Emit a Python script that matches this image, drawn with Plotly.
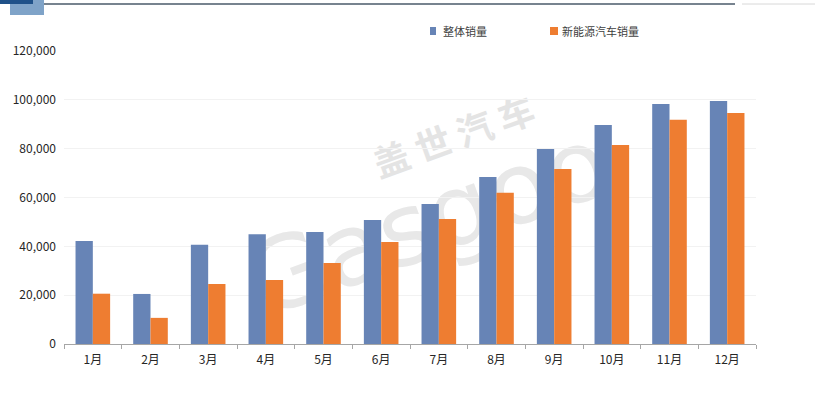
import plotly.graph_objects as go

months = ["1月", "2月", "3月", "4月", "5月", "6月", "7月", "8月", "9月", "10月", "11月", "12月"]
total_sales = [42200, 20500, 40600, 45000, 45900, 50800, 57300, 68400, 79900, 89700, 98300, 99500]
nev_sales = [20600, 10700, 24600, 26200, 33200, 41800, 51200, 61900, 71700, 81500, 91800, 94600]
series_names = ["整体销量", "新能源汽车销量"]
y_ticks = [0, 20000, 40000, 60000, 80000, 100000, 120000]

FONT = "Noto Sans CJK SC"
BLUE = "#6784b6"
ORANGE = "#ee7d31"

L, R, T, B = 64, 64, 51, 49
PW, PH = 820 - L - R, 393 - T - B


def px(x):
    return (x - L) / PW


def py(y):
    return (393 - B - y) / PH


fig = go.Figure()
fig.add_trace(go.Bar(x=months, y=total_sales, name=series_names[0], marker_color=BLUE,
                     marker_line_width=0))
fig.add_trace(go.Bar(x=months, y=nev_sales, name=series_names[1], marker_color=ORANGE,
                     marker_line_width=0))

fig.update_layout(
    width=820, height=393,
    margin=dict(l=L, r=R, t=T, b=B),
    paper_bgcolor="white", plot_bgcolor="white",
    barmode="group", bargap=0.4, bargroupgap=0.0,
    font=dict(family=FONT, color="#333333", size=12),
    showlegend=False,
)
fig.update_yaxes(range=[0, 120000], tickvals=y_ticks, tickformat=",",
                 showgrid=True, gridcolor="#f2f2f2", gridwidth=1,
                 zeroline=False, showline=False, ticks="", ticklabelstandoff=7,
                 tickfont=dict(size=12, color="#262626"))
fig.update_xaxes(showline=True, linecolor="#a6a6a6", linewidth=1,
                 ticks="outside", tickson="boundaries", ticklen=4, tickcolor="#a6a6a6",
                 ticklabelstandoff=5,
                 tickfont=dict(size=12, color="#262626"))

# manual legend
legend_items = [(series_names[0], BLUE, 430, 6, 441), (series_names[1], ORANGE, 550, 8, 560)]
for name, col, x0, w, tx in legend_items:
    fig.add_shape(type="rect", xref="paper", yref="paper", x0=px(x0), x1=px(x0 + w),
                  y0=py(35), y1=py(27), fillcolor=col, line_width=0)
    fig.add_annotation(xref="paper", yref="paper", x=px(tx), y=py(31), xanchor="left",
                       yanchor="middle", text=name, showarrow=False,
                       font=dict(family=FONT, size=11, color="#404040"))

# header decoration
fig.add_shape(type="rect", xref="paper", yref="paper", x0=px(10), x1=px(44),
              y0=py(15), y1=py(0), fillcolor="#7fa3c8", line_width=0)
fig.add_shape(type="rect", xref="paper", yref="paper", x0=px(0), x1=px(33),
              y0=py(4), y1=py(0), fillcolor="#1f5189", line_width=0)
fig.add_shape(type="line", xref="paper", yref="paper", x0=px(44), x1=px(735),
              y0=py(4), y1=py(4), line=dict(color="#4a5a6a", width=1.5))
fig.add_shape(type="line", xref="paper", yref="paper", x0=px(742), x1=px(815),
              y0=py(4), y1=py(4), line=dict(color="#d8d8d8", width=1))

# watermark (behind the bars, via shape labels)
fig.add_shape(type="rect", xref="paper", yref="paper", layer="below",
              x0=px(405), x1=px(505), y0=py(160), y1=py(120),
              line_width=0, fillcolor="rgba(0,0,0,0)",
              label=dict(text="盖 世 汽 车", textangle=-20, textposition="middle center",
                         font=dict(family=FONT, size=36, color="#e4e4e4", weight="bold")))
fig.add_shape(type="rect", xref="paper", yref="paper", layer="below",
              x0=px(375), x1=px(475), y0=py(235), y1=py(195),
              line_width=0, fillcolor="rgba(0,0,0,0)",
              label=dict(text="Gasgoo", textangle=-20, textposition="middle center",
                         font=dict(family="DejaVu Sans", size=100, color="#e8e8e8")))

fig.write_html("out.html")
